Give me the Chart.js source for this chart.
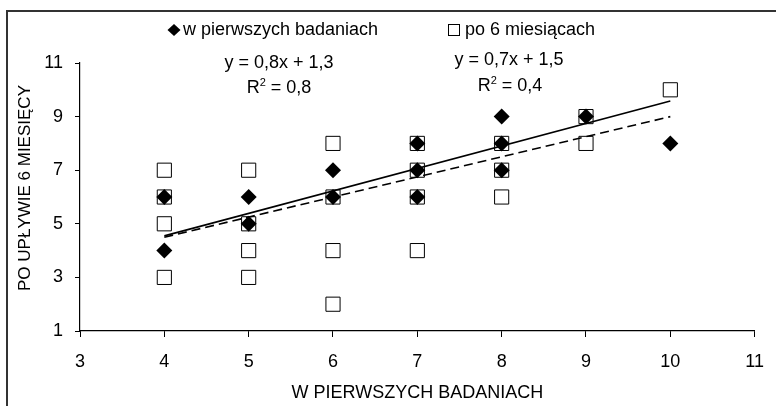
<!DOCTYPE html>
<html>
<head>
<meta charset="utf-8">
<script src="https://cdn.jsdelivr.net/npm/chart.js@4/dist/chart.umd.min.js"></script>
<style>
  html, body { margin: 0; padding: 0; background: #fff; }
  #c { display: block; }
</style>
</head>
<body>
<canvas id="c" width="778" height="406"></canvas>
<script>
// ---- data ----
const firstX = [4, 4, 5, 5, 6, 6, 7, 7, 7, 8, 8, 8, 9, 10];
const firstY = [6, 4, 6, 5, 7, 6, 8, 7, 6, 9, 8, 7, 9, 8];
const afterX = [4, 4, 4, 4, 5, 5, 5, 5, 6, 6, 6, 6, 7, 7, 7, 7, 8, 8, 8, 9, 9, 10];
const afterY = [7, 6, 5, 3, 7, 5, 4, 3, 8, 6, 4, 2, 8, 7, 6, 4, 8, 7, 6, 9, 8, 10];
const trendFirstX = [4, 10];
const trendFirstY = [4.55, 9.58];
const trendAfterX = [4, 10];
const trendAfterY = [4.5, 9.0];
const xTicks = [3, 4, 5, 6, 7, 8, 9, 10, 11];
const yTicks = [1, 3, 5, 7, 9, 11];
const legendLabels = ['w pierwszych badaniach', 'po 6 miesiącach'];
const equations = ['y = 0,8x + 1,3', 'y = 0,7x + 1,5'];
const r2Values = ['0,8', '0,4'];
const xTitle = 'W PIERWSZYCH BADANIACH';
const yTitle = 'PO UPŁYWIE 6 MIESIĘCY';

const pts = (xs, ys) => xs.map((x, i) => ({ x: x, y: ys[i] }));
const FONT = '"Liberation Sans", Arial, sans-serif';

const decor = {
  id: 'decor',
  beforeDraw(chart) {
    const ctx = chart.ctx;
    ctx.save();
    ctx.fillStyle = '#fff';
    ctx.fillRect(0, 0, chart.width, chart.height);
    ctx.restore();
  },
  afterDraw(chart) {
    const ctx = chart.ctx;
    ctx.save();
    // frame
    ctx.strokeStyle = '#333';
    ctx.lineWidth = 2;
    ctx.beginPath();
    ctx.moveTo(7, 420);
    ctx.lineTo(7, 11);
    ctx.lineTo(776, 11);
    ctx.stroke();

    // y axis title
    ctx.save();
    ctx.translate(25, 188);
    ctx.rotate(-Math.PI / 2);
    ctx.fillStyle = '#000';
    ctx.font = '17px ' + FONT;
    ctx.textAlign = 'center';
    ctx.textBaseline = 'middle';
    ctx.fillText(yTitle, 0, 0);
    ctx.restore();

    ctx.fillStyle = '#000';
    ctx.font = '18px ' + FONT;
    ctx.textBaseline = 'alphabetic';
    ctx.textAlign = 'left';
    // legend item 1: diamond
    ctx.beginPath();
    ctx.moveTo(174, 24);
    ctx.lineTo(180.5, 30);
    ctx.lineTo(174, 36);
    ctx.lineTo(167.5, 30);
    ctx.closePath();
    ctx.fill();
    ctx.fillText(legendLabels[0], 183, 35);
    // legend item 2: square
    ctx.fillStyle = '#fff';
    ctx.fillRect(448.5, 24.5, 11, 11);
    ctx.strokeStyle = '#000';
    ctx.lineWidth = 1;
    ctx.strokeRect(448.5, 24.5, 11, 11);
    ctx.fillStyle = '#000';
    ctx.fillText(legendLabels[1], 465, 35);

    // equations
    ctx.textAlign = 'center';
    ctx.fillText(equations[0], 279, 68);
    ctx.fillText(equations[1], 509, 65);
    const drawR2 = (cx, base, val) => {
      ctx.font = '18px ' + FONT;
      const wR = ctx.measureText('R').width;
      const rest = ' = ' + val;
      const wRest = ctx.measureText(rest).width;
      ctx.font = '11px ' + FONT;
      const w2 = ctx.measureText('2').width;
      const total = wR + w2 + wRest;
      let x = cx - total / 2;
      ctx.textAlign = 'left';
      ctx.font = '18px ' + FONT;
      ctx.fillText('R', x, base);
      x += wR;
      ctx.font = '11px ' + FONT;
      ctx.fillText('2', x, base - 7);
      x += w2;
      ctx.font = '18px ' + FONT;
      ctx.fillText(rest, x, base);
    };
    drawR2(279, 93, r2Values[0]);
    drawR2(510, 91, r2Values[1]);
    ctx.restore();
  }
};

new Chart(document.getElementById('c'), {
  type: 'scatter',
  data: {
    datasets: [
      {
        label: legendLabels[0],
        data: pts(firstX, firstY),
        pointStyle: 'rectRot',
        pointRadius: 8,
        pointHoverRadius: 8,
        backgroundColor: '#000',
        borderColor: '#000',
        borderWidth: 0,
        order: 0
      },
      {
        label: 'trend1',
        data: pts(trendFirstX, trendFirstY),
        showLine: true,
        pointRadius: 0,
        borderColor: '#000',
        borderWidth: 1.6,
        fill: false,
        order: 1
      },
      {
        label: 'trend2',
        data: pts(trendAfterX, trendAfterY),
        showLine: true,
        pointRadius: 0,
        borderColor: '#000',
        borderWidth: 1.6,
        borderDash: [9, 5],
        fill: false,
        order: 1
      },
      {
        label: legendLabels[1],
        data: pts(afterX, afterY),
        pointStyle: 'rect',
        pointRadius: 10,
        pointHoverRadius: 10,
        backgroundColor: '#fff',
        borderColor: '#000',
        borderWidth: 1,
        order: 2
      }
    ]
  },
  options: {
    responsive: false,
    animation: false,
    events: [],
    layout: { padding: { top: 63, right: 11, left: 0, bottom: 0 } },
    plugins: {
      legend: { display: false },
      tooltip: { enabled: false }
    },
    scales: {
      x: {
        type: 'linear',
        min: xTicks[0],
        max: xTicks[xTicks.length - 1],
        afterBuildTicks(scale) { scale.ticks = xTicks.map(v => ({ value: v })); },
        afterFit(scale) { scale.height = 75; },
        ticks: { color: '#000', font: { family: FONT, size: 18 }, padding: 14, maxRotation: 0, autoSkip: false },
        grid: { display: true, drawOnChartArea: false, drawTicks: true, tickLength: 6, color: '#000', lineWidth: 1 },
        border: { display: true, color: '#000', width: 1.2 },
        title: { display: true, text: xTitle, color: '#000', font: { family: FONT, size: 18 }, padding: { top: 0, bottom: 2 } }
      },
      y: {
        type: 'linear',
        min: yTicks[0],
        max: yTicks[yTicks.length - 1],
        afterBuildTicks(scale) { scale.ticks = yTicks.map(v => ({ value: v })); },
        afterFit(scale) { scale.width = 80; },
        ticks: { color: '#000', font: { family: FONT, size: 18 }, padding: 12, autoSkip: false },
        grid: { display: true, drawOnChartArea: false, drawTicks: true, tickLength: 5, color: '#000', lineWidth: 1 },
        border: { display: true, color: '#000', width: 1.2 },
        title: { display: false }
      }
    }
  },
  plugins: [decor]
});
</script>
</body>
</html>
